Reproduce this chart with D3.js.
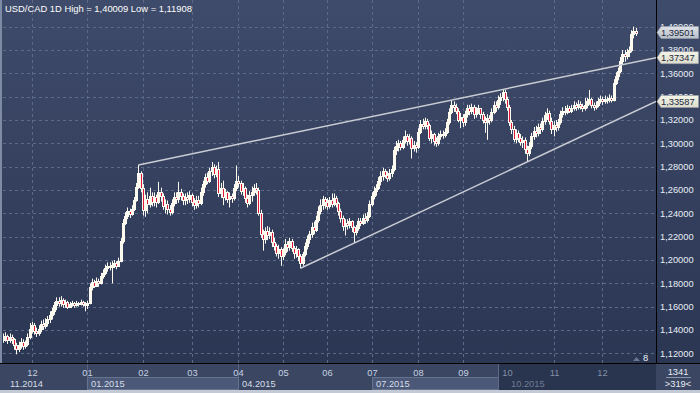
<!DOCTYPE html>
<html><head><meta charset="utf-8">
<script src="https://cdn.jsdelivr.net/npm/d3@7"></script>
<style>html,body{margin:0;padding:0;background:#2c3754;overflow:hidden}svg{display:block}text{font-family:"Liberation Sans",Arial,sans-serif}</style>
</head><body>
<script>
const title = "USD/CAD 1D High = 1,40009 Low = 1,11908";
const opens = [1.131,1.133,1.135,1.131,1.134,1.132,1.127,1.124,1.127,1.130,
1.126,1.128,1.134,1.141,1.144,1.139,1.137,1.141,1.145,1.143,
1.146,1.149,1.153,1.156,1.161,1.165,1.163,1.166,1.162,1.164,
1.160,1.162,1.163,1.161,1.163,1.162,1.164,1.162,1.161,1.163,
1.177,1.181,1.178,1.182,1.180,1.186,1.189,1.193,1.195,1.194,
1.196,1.197,1.195,1.199,1.216,1.232,1.238,1.242,1.239,1.244,
1.251,1.263,1.275,1.262,1.243,1.252,1.248,1.255,1.250,1.254,
1.250,1.258,1.255,1.246,1.248,1.244,1.241,1.249,1.254,1.252,
1.258,1.255,1.251,1.254,1.252,1.256,1.250,1.247,1.251,1.249,
1.258,1.265,1.271,1.268,1.276,1.280,1.274,1.278,1.257,1.262,
1.254,1.258,1.252,1.255,1.253,1.262,1.268,1.266,1.259,1.262,
1.253,1.249,1.256,1.258,1.262,1.260,1.240,1.222,1.218,1.225,
1.221,1.224,1.215,1.212,1.206,1.209,1.203,1.207,1.214,1.211,
1.216,1.210,1.206,1.209,1.203,1.197,1.205,1.212,1.218,1.222,
1.228,1.226,1.234,1.242,1.247,1.252,1.250,1.246,1.251,1.248,
1.253,1.249,1.242,1.236,1.229,1.232,1.230,1.233,1.228,1.224,
1.227,1.233,1.232,1.236,1.234,1.238,1.248,1.255,1.259,1.262,
1.268,1.272,1.276,1.273,1.270,1.275,1.278,1.294,1.298,1.300,
1.297,1.303,1.306,1.302,1.305,1.296,1.299,1.297,1.310,1.317,
1.315,1.319,1.316,1.305,1.308,1.302,1.300,1.306,1.308,1.307,
1.310,1.318,1.327,1.333,1.331,1.328,1.320,1.323,1.318,1.325,
1.330,1.328,1.331,1.325,1.328,1.330,1.325,1.320,1.318,1.322,
1.320,1.327,1.333,1.331,1.337,1.340,1.344,1.338,1.331,1.318,
1.312,1.304,1.309,1.305,1.301,1.303,1.295,1.292,1.298,1.306,
1.311,1.309,1.314,1.312,1.319,1.324,1.326,1.319,1.312,1.316,
1.314,1.318,1.325,1.328,1.327,1.330,1.328,1.330,1.333,1.331,
1.334,1.332,1.330,1.333,1.336,1.338,1.333,1.331,1.333,1.336,
1.338,1.336,1.338,1.337,1.339,1.337,1.352,1.358,1.362,1.371,
1.377,1.375,1.378,1.380,1.394,1.396];
const highs = [1.137,1.138,1.136,1.137,1.136,1.133,1.129,1.130,1.133,1.132,
1.131,1.137,1.146,1.147,1.146,1.142,1.144,1.148,1.149,1.150,
1.152,1.156,1.159,1.164,1.168,1.168,1.169,1.167,1.166,1.165,
1.164,1.165,1.164,1.165,1.164,1.166,1.165,1.164,1.165,1.180,
1.184,1.183,1.185,1.184,1.189,1.192,1.196,1.198,1.198,1.199,
1.200,1.199,1.202,1.219,1.235,1.241,1.245,1.244,1.247,1.254,
1.266,1.2815,1.276,1.265,1.256,1.258,1.262,1.258,1.258,1.256,
1.267,1.262,1.257,1.252,1.251,1.247,1.252,1.258,1.258,1.267,
1.261,1.257,1.257,1.258,1.259,1.257,1.253,1.255,1.255,1.262,
1.268,1.274,1.275,1.279,1.284,1.282,1.281,1.284,1.266,1.268,
1.261,1.259,1.258,1.257,1.265,1.281,1.272,1.268,1.266,1.263,
1.256,1.259,1.263,1.265,1.266,1.262,1.243,1.226,1.228,1.229,
1.228,1.226,1.219,1.214,1.213,1.211,1.210,1.218,1.216,1.219,
1.218,1.212,1.212,1.210,1.205,1.207,1.215,1.221,1.225,1.232,
1.233,1.238,1.246,1.252,1.255,1.254,1.253,1.254,1.257,1.257,
1.255,1.250,1.244,1.238,1.235,1.235,1.236,1.234,1.229,1.230,
1.236,1.236,1.239,1.240,1.241,1.251,1.258,1.263,1.265,1.271,
1.276,1.279,1.278,1.276,1.278,1.281,1.297,1.302,1.303,1.302,
1.306,1.311,1.308,1.308,1.306,1.302,1.301,1.313,1.320,1.321,
1.322,1.321,1.317,1.311,1.309,1.305,1.309,1.311,1.311,1.313,
1.321,1.330,1.337,1.336,1.334,1.330,1.326,1.325,1.328,1.333,
1.333,1.334,1.333,1.331,1.333,1.330,1.327,1.323,1.325,1.324,
1.330,1.336,1.336,1.341,1.343,1.3465,1.346,1.340,1.333,1.320,
1.315,1.312,1.311,1.308,1.306,1.305,1.298,1.301,1.309,1.314,
1.315,1.317,1.317,1.322,1.327,1.330,1.328,1.322,1.319,1.320,
1.321,1.328,1.331,1.332,1.333,1.332,1.333,1.336,1.335,1.337,
1.336,1.334,1.339,1.339,1.3457,1.339,1.335,1.336,1.339,1.341,
1.340,1.341,1.340,1.342,1.341,1.355,1.361,1.365,1.374,1.380,
1.380,1.381,1.383,1.397,1.40009,1.399];
const lows = [1.129,1.130,1.128,1.129,1.128,1.123,1.11908,1.121,1.124,1.123,
1.124,1.126,1.132,1.137,1.136,1.134,1.135,1.138,1.140,1.141,
1.143,1.146,1.149,1.153,1.157,1.160,1.160,1.159,1.159,1.158,
1.159,1.160,1.159,1.160,1.160,1.161,1.160,1.156,1.158,1.162,
1.174,1.176,1.177,1.177,1.179,1.184,1.187,1.190,1.191,1.180,
1.193,1.192,1.194,1.198,1.214,1.230,1.235,1.236,1.238,1.242,
1.250,1.261,1.258,1.238,1.237,1.240,1.245,1.246,1.246,1.245,
1.248,1.250,1.243,1.240,1.239,1.238,1.239,1.246,1.248,1.249,
1.251,1.247,1.247,1.248,1.249,1.246,1.243,1.244,1.245,1.247,
1.255,1.262,1.265,1.266,1.272,1.270,1.271,1.254,1.253,1.247,
1.251,1.249,1.245,1.249,1.251,1.259,1.262,1.256,1.255,1.249,
1.245,1.247,1.250,1.255,1.256,1.238,1.219,1.208,1.214,1.217,
1.218,1.211,1.208,1.203,1.201,1.195,1.200,1.204,1.207,1.208,
1.207,1.201,1.202,1.199,1.1929,1.195,1.203,1.209,1.214,1.219,
1.222,1.224,1.232,1.239,1.243,1.244,1.243,1.244,1.245,1.246,
1.245,1.238,1.232,1.225,1.221,1.226,1.227,1.224,1.2145,1.221,
1.225,1.229,1.230,1.231,1.232,1.236,1.246,1.252,1.255,1.260,
1.264,1.268,1.270,1.267,1.268,1.271,1.276,1.290,1.293,1.294,
1.295,1.300,1.298,1.299,1.287,1.293,1.292,1.295,1.308,1.312,
1.312,1.312,1.302,1.300,1.298,1.297,1.298,1.303,1.304,1.305,
1.308,1.316,1.325,1.327,1.325,1.318,1.313,1.314,1.315,1.322,
1.324,1.325,1.321,1.322,1.325,1.321,1.317,1.309,1.303,1.316,
1.318,1.325,1.327,1.329,1.333,1.336,1.334,1.328,1.315,1.308,
1.301,1.300,1.301,1.298,1.296,1.291,1.284,1.289,1.295,1.303,
1.305,1.306,1.308,1.310,1.316,1.320,1.316,1.308,1.306,1.310,
1.311,1.316,1.322,1.324,1.325,1.326,1.326,1.328,1.328,1.329,
1.329,1.327,1.328,1.330,1.333,1.330,1.328,1.329,1.331,1.334,
1.333,1.334,1.334,1.335,1.335,1.336,1.350,1.354,1.360,1.368,
1.370,1.372,1.374,1.378,1.390,1.392];
const closes = [1.133,1.135,1.131,1.134,1.132,1.127,1.124,1.127,1.130,1.126,
1.128,1.134,1.141,1.144,1.139,1.137,1.141,1.145,1.143,1.146,
1.149,1.153,1.156,1.161,1.165,1.163,1.166,1.162,1.164,1.160,
1.162,1.163,1.161,1.163,1.162,1.164,1.162,1.161,1.163,1.177,
1.181,1.178,1.182,1.180,1.186,1.189,1.193,1.195,1.194,1.196,
1.197,1.195,1.199,1.216,1.232,1.238,1.242,1.239,1.244,1.251,
1.263,1.275,1.262,1.243,1.252,1.248,1.255,1.250,1.254,1.250,
1.258,1.255,1.246,1.248,1.244,1.241,1.249,1.254,1.252,1.258,
1.255,1.251,1.254,1.252,1.256,1.250,1.247,1.251,1.249,1.258,
1.265,1.271,1.268,1.276,1.280,1.274,1.278,1.257,1.262,1.254,
1.258,1.252,1.255,1.253,1.262,1.268,1.266,1.259,1.262,1.253,
1.249,1.256,1.258,1.262,1.260,1.240,1.222,1.218,1.225,1.221,
1.224,1.215,1.212,1.206,1.209,1.203,1.207,1.214,1.211,1.216,
1.210,1.206,1.209,1.203,1.197,1.205,1.212,1.218,1.222,1.228,
1.226,1.234,1.242,1.247,1.252,1.250,1.246,1.251,1.248,1.253,
1.249,1.242,1.236,1.229,1.232,1.230,1.233,1.228,1.224,1.227,
1.233,1.232,1.236,1.234,1.238,1.248,1.255,1.259,1.262,1.268,
1.272,1.276,1.273,1.270,1.275,1.278,1.294,1.298,1.300,1.297,
1.303,1.306,1.302,1.305,1.296,1.299,1.297,1.310,1.317,1.315,
1.319,1.316,1.305,1.308,1.302,1.300,1.306,1.308,1.307,1.310,
1.318,1.327,1.333,1.331,1.328,1.320,1.323,1.318,1.325,1.330,
1.328,1.331,1.325,1.328,1.330,1.325,1.320,1.318,1.322,1.320,
1.327,1.333,1.331,1.337,1.340,1.344,1.338,1.331,1.318,1.312,
1.304,1.309,1.305,1.301,1.303,1.295,1.292,1.298,1.306,1.311,
1.309,1.314,1.312,1.319,1.324,1.326,1.319,1.312,1.316,1.314,
1.318,1.325,1.328,1.327,1.330,1.328,1.330,1.333,1.331,1.334,
1.332,1.330,1.333,1.336,1.338,1.333,1.331,1.333,1.336,1.338,
1.336,1.338,1.337,1.339,1.337,1.352,1.358,1.362,1.371,1.377,
1.375,1.378,1.380,1.394,1.396,1.39501];

const monthTickIdx = [13,38,63,85,106,126,146,166,187,207,227,248,270];
const monthLabels = ["12","01","02","03","04","05","06","07","08","09","10","11","12"];
const monthGrid = [true,true,true,true,true,true,true,true,true,true,false,true,true];
const periodIdx = [0,38,106,166,227];
const periodLabels = ["11.2014","01.2015","04.2015","07.2015","10.2015"];
const periodHighlight = [false,true,false,true,false];
const navigatorEndIdx = 223;
const yTicks = [1.12,1.14,1.16,1.18,1.20,1.22,1.24,1.26,1.28,1.30,1.32,1.34,1.36,1.38,1.40];
const upperTrend = {startIdx:61, startPrice:1.2815, endPrice:1.37347};
const lowerTrend = {startIdx:134, startPrice:1.1929, endPrice:1.33587};
const lastPrice = 1.39501;
const barsCount = "1341";
const visibleInfo = ">319<";
const cornerNumber = "8";

const W=700,H=393, plotL=3, plotR=656, plotB=363;
const svg = d3.select("body").append("svg").attr("width",W).attr("height",H);
const defs = svg.append("defs");
const g1 = defs.append("linearGradient").attr("id","bg").attr("x1",0).attr("y1",0).attr("x2",0).attr("y2",1);
g1.append("stop").attr("offset","0%").attr("stop-color","#3f4b6a");
g1.append("stop").attr("offset","100%").attr("stop-color","#2b3653");
const g2 = defs.append("linearGradient").attr("id","tagGray").attr("x1",0).attr("y1",0).attr("x2",0).attr("y2",1);
g2.append("stop").attr("offset","0%").attr("stop-color","#dfe3e8");
g2.append("stop").attr("offset","100%").attr("stop-color","#b9bfc8");
const g3 = defs.append("linearGradient").attr("id","tagCream").attr("x1",0).attr("y1",0).attr("x2",0).attr("y2",1);
g3.append("stop").attr("offset","0%").attr("stop-color","#f4f4e8");
g3.append("stop").attr("offset","100%").attr("stop-color","#dcdccc");
defs.append("clipPath").attr("id","plotClip").append("rect").attr("x",plotL).attr("y",0).attr("width",plotR-plotL).attr("height",plotB);

svg.append("rect").attr("x",0).attr("y",0).attr("width",W).attr("height",plotB).attr("fill","url(#bg)");

const x = d3.scaleLinear().domain([0, closes.length-1]).range([3, 635.7]);
const y = d3.scaleLinear().domain([1.12, 1.40]).range([353.3, 26.7]);
const px = i => Math.round(x(i));

// grid
const grid = svg.append("g").attr("stroke","#5c6a88").attr("stroke-width",1).attr("stroke-dasharray","3,3");
yTicks.forEach(v=>{ const yy=Math.round(y(v))+0.5;
  grid.append("line").attr("x1",plotL).attr("x2",plotR).attr("y1",yy).attr("y2",yy);});
monthTickIdx.forEach((m,k)=>{ if(!monthGrid[k]) return; const xx=px(m)+0.5;
  grid.append("line").attr("x1",xx).attr("x2",xx).attr("y1",0).attr("y2",plotB);});

// candles
const cg = svg.append("g").attr("clip-path","url(#plotClip)");
closes.forEach((c,i)=>{
  const o=opens[i], h=highs[i], l=lows[i];
  const cx = px(i);
  cg.append("line").attr("x1",cx+0.5).attr("x2",cx+0.5).attr("y1",y(h)).attr("y2",y(l))
    .attr("stroke","#fdfaf0").attr("stroke-width",1);
  const top = Math.round(y(Math.max(o,c))), bot = Math.round(y(Math.min(o,c)));
  cg.append("rect").attr("x",cx-0.5).attr("y",top+0.5).attr("width",2).attr("height",Math.max(1,bot-top))
    .attr("fill", c<o ? "#e0163c" : "#fdfaf0").attr("stroke","#fdfaf0").attr("stroke-width",1);
});

// trend lines
[upperTrend, lowerTrend].forEach(t=>{
  svg.append("line").attr("x1",x(t.startIdx)).attr("y1",y(t.startPrice)).attr("x2",plotR).attr("y2",y(t.endPrice))
    .attr("stroke","#c9ccd3").attr("stroke-width",1.5).attr("clip-path","url(#plotClip)");
});

// left strip
svg.append("rect").attr("x",0).attr("y",0).attr("width",2).attr("height",390).attr("fill","#7e8ba4");

// axis lines
svg.append("line").attr("x1",plotR+0.5).attr("x2",plotR+0.5).attr("y1",0).attr("y2",390).attr("stroke","#000").attr("stroke-width",1);

// y labels
const fmt = v => d3.format(".5f")(v).replace(".",",");
svg.append("g").selectAll("text").data(yTicks).join("text")
  .attr("x",660).attr("y",d=>y(d)).attr("dy","0.35em").attr("font-size","9.3px").attr("fill","#e8eef6").text(fmt);

// price tags
function tag(v, fill){
  const yc = y(v);
  const gg = svg.append("g");
  gg.append("path").attr("d",`M${plotR+1},${yc} L${plotR+5},${yc-6} L698.5,${yc-6} L698.5,${yc+6} L${plotR+5},${yc+6} Z`)
    .attr("fill",fill).attr("stroke","#9aa0aa").attr("stroke-width",0.6);
  gg.append("text").attr("x",661).attr("y",yc).attr("dy","0.36em").attr("font-size","9.3px").attr("fill","#1c2840").text(fmt(v));
}
tag(upperTrend.endPrice,"url(#tagCream)");
tag(lowerTrend.endPrice,"url(#tagCream)");
tag(lastPrice,"url(#tagGray)");

// bottom strip
svg.append("rect").attr("x",0).attr("y",plotB+1).attr("width",W).attr("height",26).attr("fill","#3b4662");
const bs = svg.append("g");
periodIdx.forEach((p,k)=>{
  const x0 = k===0 ? 2 : px(p);
  const x1 = k<periodIdx.length-1 ? px(periodIdx[k+1]) : plotR;
  if(periodHighlight[k]){
    const xe = Math.min(x1, px(navigatorEndIdx));
    bs.append("rect").attr("x",x0+0.5).attr("y",377.5).attr("width",xe-x0).attr("height",12)
      .attr("fill","#4b5877").attr("stroke","#66738f").attr("stroke-width",1);
  }
});
// dim area beyond navigator
bs.append("rect").attr("x",px(navigatorEndIdx)).attr("y",plotB+1).attr("width",plotR-px(navigatorEndIdx)).attr("height",26)
  .attr("fill","#27314b").attr("opacity",0.85);
bs.append("line").attr("x1",px(navigatorEndIdx)+0.5).attr("x2",px(navigatorEndIdx)+0.5).attr("y1",plotB+1).attr("y2",390)
  .attr("stroke","#5d6984").attr("stroke-width",1);
[38,106].forEach(p=>{ bs.append("line").attr("x1",px(p)+0.5).attr("x2",px(p)+0.5).attr("y1",plotB+1).attr("y2",377)
  .attr("stroke","#56627e").attr("stroke-width",1);});
monthTickIdx.forEach((m,k)=>{
  bs.append("text").attr("x",px(m)+0.5).attr("y",375.5).attr("text-anchor","middle").attr("font-size","9.3px")
    .attr("fill", m>=navigatorEndIdx ? "#8290a8" : "#c6d2e2").text(monthLabels[k]);
});
periodIdx.forEach((p,k)=>{
  const xx = k===0 ? 10 : px(p)+4;
  bs.append("text").attr("x",xx).attr("y",387).attr("font-size","9.3px")
    .attr("fill", p>=navigatorEndIdx ? "#6f7c94" : "#d6dee9").text(periodLabels[k]);
});
svg.append("line").attr("x1",0).attr("x2",W).attr("y1",plotB+0.5).attr("y2",plotB+0.5).attr("stroke","#000").attr("stroke-width",1);
// right bottom box
svg.append("text").attr("x",678).attr("y",374.5).attr("text-anchor","middle").attr("font-size","9.3px").attr("fill","#e6ecf4").text(barsCount);
svg.append("line").attr("x1",666).attr("x2",691).attr("y1",377.5).attr("y2",377.5).attr("stroke","#8a96ab");
svg.append("text").attr("x",678).attr("y",386.5).attr("text-anchor","middle").attr("font-size","9.3px").attr("fill","#e6ecf4").text(visibleInfo);
// bottom frame
svg.append("rect").attr("x",0).attr("y",390).attr("width",W).attr("height",3).attr("fill","#c3cad5");

// corner number + triangle
svg.append("path").attr("d","M633,361 L636.5,357 L640,361 Z").attr("fill","#6a7690");
svg.append("text").attr("x",643).attr("y",361).attr("font-size","9.3px").attr("fill","#f0f4f8").text(cornerNumber);

// title
svg.append("text").attr("x",5).attr("y",11.5).attr("font-size","9.4px").attr("fill","#ffffff").text(title);
</script>
</body></html>
